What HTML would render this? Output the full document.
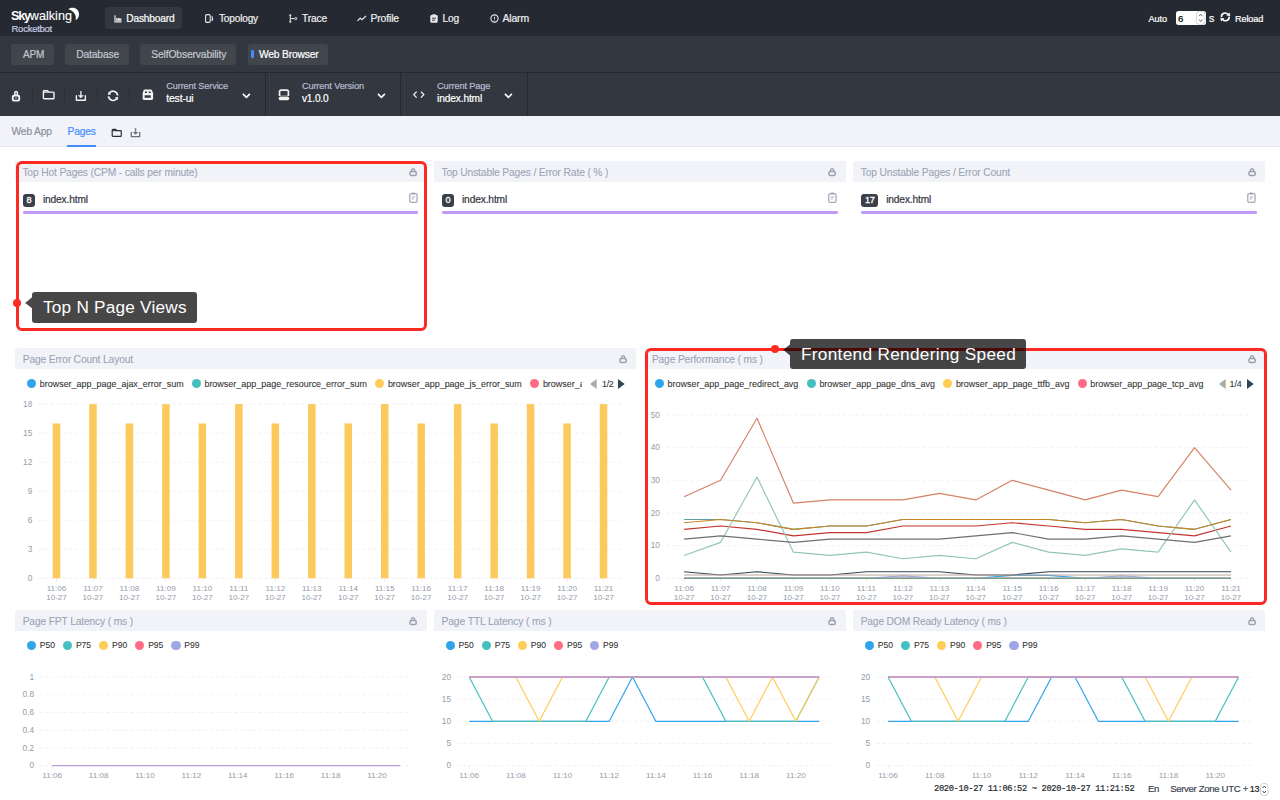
<!DOCTYPE html>
<html lang="en"><head><meta charset="utf-8"><title>SkyWalking Rocketbot - Dashboard</title>
<style>
html,body{margin:0;padding:0;}
body{width:1280px;height:800px;overflow:hidden;position:relative;background:#fff;font-family:"Liberation Sans",sans-serif;}
.t{position:absolute;white-space:nowrap;font-family:"Liberation Sans",sans-serif;-webkit-text-stroke:0.2px currentColor;}
svg{position:absolute;overflow:visible;}
</style></head><body>
<header class="rk-header">
<div style="position:absolute;left:0px;top:0px;width:1280px;height:36px;background:#252a32;"></div>
<span class="t" style="left:11.00px;top:8.85px;font-size:12.6px;line-height:15px;color:#fff;letter-spacing:-1.206px;font-weight:700;-webkit-text-stroke:0;">Sky</span>
<span class="t" style="left:29.80px;top:8.85px;font-size:12.6px;line-height:15px;color:#fff;letter-spacing:0.026px;-webkit-text-stroke:0.1px #fff;">walking</span>
<svg style="left:66px;top:7px" width="14" height="14" viewBox="0 0 14 14"><path d="M2.4 2.2 C6.5 -1 13.4 1.6 13 7.6 C12.9 10.2 11.6 12.2 9.6 13.2 C10.8 8.6 8 3.6 2.4 2.2 Z" fill="#fff"/></svg>
<span class="t" style="left:11.50px;top:23.35px;font-size:9.5px;line-height:11px;color:#c6cde6;letter-spacing:-0.253px;">Rocketbot</span>
<div style="position:absolute;left:105px;top:7px;width:77px;height:22px;background:#333840;border-radius:4px;"></div>
<span class="t" style="left:126.30px;top:12.85px;font-size:10.16px;line-height:12px;color:#fff;letter-spacing:-0.167px;">Dashboard</span>
<span class="t" style="left:219.00px;top:12.85px;font-size:10.04px;line-height:12px;color:#f0f0f0;letter-spacing:-0.149px;">Topology</span>
<span class="t" style="left:302.00px;top:12.85px;font-size:10.23px;line-height:12px;color:#f0f0f0;letter-spacing:-0.154px;">Trace</span>
<span class="t" style="left:370.50px;top:12.85px;font-size:10.37px;line-height:12px;color:#f0f0f0;letter-spacing:-0.128px;">Profile</span>
<span class="t" style="left:442.50px;top:12.85px;font-size:10.2px;line-height:12px;color:#f0f0f0;letter-spacing:-0.173px;">Log</span>
<span class="t" style="left:502.50px;top:12.35px;font-size:10.46px;line-height:13px;color:#f0f0f0;letter-spacing:-0.163px;">Alarm</span>
<svg style="left:113.5px;top:14.5px" width="8" height="8" viewBox="0 0 8 8"><path d="M0.4 0.3 h1.2 v6 h6 v1.3 h-7.2 z M2.2 5.8 V2.4 l1.4 1.3 l1.3 -1 l1.2 1 l1.3 -0.8 V5.8 z" fill="#e8e8e8"/></svg>
<svg style="left:205px;top:14px" width="9" height="9" viewBox="0 0 9 9"><rect x="0.6" y="0.6" width="4.6" height="7.8" rx="1.2" fill="none" stroke="#e8e8e8" stroke-width="1.1"/><path d="M6.8 2 q1.6 2.5 0 5" fill="none" stroke="#e8e8e8" stroke-width="1.1"/></svg>
<svg style="left:288.5px;top:14px" width="9" height="9" viewBox="0 0 9 9"><path d="M1.3 1.5 V7.5 M1.3 4.6 H5.8" fill="none" stroke="#e8e8e8" stroke-width="1"/><circle cx="1.3" cy="1.3" r="1" fill="#e8e8e8"/><circle cx="1.3" cy="7.7" r="1" fill="#e8e8e8"/><circle cx="6.8" cy="4.6" r="1.1" fill="none" stroke="#e8e8e8" stroke-width="0.9"/></svg>
<svg style="left:357px;top:15px" width="10" height="7" viewBox="0 0 10 7"><path d="M0.5 5.8 L3.2 3 L5 4.6 L9 1" fill="none" stroke="#e8e8e8" stroke-width="1.2"/></svg>
<svg style="left:429.5px;top:14px" width="8" height="9" viewBox="0 0 8 9"><rect x="0.3" y="1" width="7.4" height="7.7" rx="1.2" fill="#e8e8e8"/><rect x="2.3" y="0.2" width="3.4" height="1.8" rx="0.6" fill="#e8e8e8"/><path d="M2 4.2 h4 M2 6.2 h3" stroke="#252a2f" stroke-width="0.9"/></svg>
<svg style="left:489.5px;top:14.3px" width="9" height="9" viewBox="0 0 9 9"><circle cx="4.5" cy="4.5" r="3.6" fill="none" stroke="#e8e8e8" stroke-width="1.1"/><path d="M4.5 2.8 V4.8 M4.5 5.6 V6.3" stroke="#e8e8e8" stroke-width="1"/></svg>
<span class="t" style="left:1148.60px;top:13.85px;font-size:9.17px;line-height:11px;color:#fff;letter-spacing:-0.141px;">Auto</span>
<div style="position:absolute;left:1176px;top:10.9px;width:29.8px;height:14.2px;background:#fff;border-radius:2.5px;"></div>
<span class="t" style="left:1178.00px;top:12.85px;font-size:9.6px;line-height:12px;color:#000;">6</span>
<svg style="left:1196.2px;top:11.3px" width="10" height="14" viewBox="0 0 10 14"><rect x="0.4" y="0.4" width="8.6" height="13" rx="3" fill="#fff" stroke="#c8c8c8" stroke-width="0.8"/><path d="M3 5.2 L4.7 3.3 L6.4 5.2 M3 8.6 L4.7 10.5 L6.4 8.6" fill="none" stroke="#666" stroke-width="1"/></svg>
<span class="t" style="left:1208.90px;top:11.85px;font-size:10.6px;line-height:13px;color:#fff;">s</span>
<svg style="left:1219.6px;top:12px" width="11" height="10" viewBox="0 0 11 10"><path d="M1.5 5.2 A3.6 3.6 0 0 1 8 2.6 M9.1 4.6 A3.6 3.6 0 0 1 2.6 7.2" fill="none" stroke="#fff" stroke-width="1.6"/><path d="M6.2 3.6 L10.2 3.9 L9.6 0.4 Z M4.4 6.2 L0.4 5.9 L1 9.4 Z" fill="#fff"/></svg>
<span class="t" style="left:1235.00px;top:13.85px;font-size:9.17px;line-height:11px;color:#fff;letter-spacing:-0.143px;">Reload</span>
</header>
<nav class="rk-dashboard-group">
<div style="position:absolute;left:0px;top:36px;width:1280px;height:36px;background:#333840;"></div>
<div style="position:absolute;left:11px;top:44px;width:43px;height:21px;background:rgba(255,255,255,0.07);border-radius:3px;"></div>
<span class="t" style="left:23.00px;top:48.85px;font-size:9.99px;line-height:12px;color:#c3c7cf;letter-spacing:-0.216px;">APM</span>
<div style="position:absolute;left:65px;top:44px;width:64px;height:21px;background:rgba(255,255,255,0.07);border-radius:3px;"></div>
<span class="t" style="left:76.30px;top:48.85px;font-size:10.28px;line-height:12px;color:#c3c7cf;letter-spacing:-0.163px;">Database</span>
<div style="position:absolute;left:140px;top:44px;width:96px;height:21px;background:rgba(255,255,255,0.07);border-radius:3px;"></div>
<span class="t" style="left:151.30px;top:48.85px;font-size:10.31px;line-height:12px;color:#c3c7cf;letter-spacing:-0.139px;">SelfObservability</span>
<div style="position:absolute;left:248px;top:44px;width:80px;height:21px;background:rgba(255,255,255,0.07);border-radius:3px;"></div>
<div style="position:absolute;left:251px;top:50.3px;width:2.6px;height:8.2px;background:#448dfe;border-radius:1px;"></div>
<span class="t" style="left:259.00px;top:48.85px;font-size:10.25px;line-height:12px;color:#fff;letter-spacing:-0.166px;">Web Browser</span>
</nav>
<div class="rk-dashboard-bar">
<div style="position:absolute;left:0px;top:72px;width:1280px;height:44px;background:#333840;border-top:1px solid #252a2f;box-sizing:border-box;"></div>
<svg style="left:11px;top:89.5px" width="10" height="13" viewBox="0 0 10 13"><rect x="1.75" y="5.55" width="6.5" height="5.1" rx="1.9" fill="none" stroke="#f2f2f2" stroke-width="1.9"/><path d="M3.85 5.2 V2.85 a1.25 1.25 0 0 1 2.5 0 V5.2" fill="none" stroke="#f2f2f2" stroke-width="1.5"/><path d="M4.2 8.1 h1.6" stroke="#f2f2f2" stroke-width="0.8"/></svg>
<div style="position:absolute;left:32.3px;top:87.5px;width:1px;height:14.5px;background:rgba(0,0,0,0.16);"></div>
<svg style="left:42.00px;top:89.00px" width="14.00" height="12.00" viewBox="0 0 14 12"><path d="M1.4 2.4 a0.8 0.8 0 0 1 0.8 -0.8 H5.5 L6.8 3.1 H11.2 a0.8 0.8 0 0 1 0.8 0.8 V9 a0.8 0.8 0 0 1 -0.8 0.8 H2.2 a0.8 0.8 0 0 1 -0.8 -0.8 Z" fill="none" stroke="#f2f2f2" stroke-width="1.4" stroke-linejoin="round"/><path d="M1.6 3.1 H6.6" stroke="#f2f2f2" stroke-width="1.3"/></svg>
<div style="position:absolute;left:64.3px;top:87.5px;width:1px;height:14.5px;background:rgba(0,0,0,0.16);"></div>
<svg style="left:75.00px;top:90.00px" width="12.00" height="12.00" viewBox="0 0 12 12"><path d="M1.4 5.7 V10.2 H10.35 V5.7" fill="none" stroke="#f2f2f2" stroke-width="1.4" stroke-linejoin="round" stroke-linecap="round"/><path d="M5.9 0.9 V6" stroke="#f2f2f2" stroke-width="1.5" opacity="0.85"/><path d="M2.9 5.2 L5.9 8.3 L8.9 5.2 Z" fill="#f2f2f2"/></svg>
<div style="position:absolute;left:97.2px;top:87.5px;width:1px;height:14.5px;background:rgba(0,0,0,0.16);"></div>
<svg style="left:107px;top:90px" width="13" height="12" viewBox="0 0 13 12"><path d="M10.68 5.45 A4.6 4.6 0 0 0 2.58 2.89 M1.52 6.25 A4.6 4.6 0 0 0 9.62 8.81" fill="none" stroke="#f2f2f2" stroke-width="1.7"/><path d="M0.9 4.9 L4.3 4.2 L1.6 1.4 Z M11.3 6.8 L7.9 7.5 L10.6 10.3 Z" fill="#f2f2f2"/></svg>
<div style="position:absolute;left:129px;top:87.5px;width:1px;height:14.5px;background:rgba(0,0,0,0.16);"></div>
<svg style="left:142px;top:89px" width="12" height="12" viewBox="0 0 12 12"><path d="M2.6 0.45 H8.8 Q9.6 0.45 9.9 1.2 L11.1 4.3 V9.6 Q11.1 11 9.7 11 H2 Q0.65 11 0.65 9.6 V4.3 L1.7 1.2 Q2 0.45 2.6 0.45 Z" fill="#f2f2f2"/><path d="M3.3 2.5 H5 V3.9 H2.7 Z M6.7 2.5 H8.4 L9 3.9 H6.7 Z" fill="#333840"/><rect x="2.6" y="6.2" width="6.2" height="2.5" rx="0.3" fill="#333840"/></svg>
<span class="t" style="left:166.25px;top:80.85px;font-size:9.18px;line-height:11px;color:#b7bdd0;letter-spacing:-0.128px;">Current Service</span>
<span class="t" style="left:166.25px;top:92.85px;font-size:10.32px;line-height:12px;color:#fff;letter-spacing:-0.122px;">test-ui</span>
<svg style="left:242.3px;top:93px" width="9" height="6" viewBox="0 0 9 6"><path d="M0.9 0.9 L4.4 4.4 L7.9 0.9" fill="none" stroke="#fff" stroke-width="1.6"/></svg>
<div style="position:absolute;left:265.2px;top:73px;width:1px;height:43px;background:#252a2f;"></div>
<div style="position:absolute;left:269.2px;top:73px;width:1px;height:43px;background:rgba(255,255,255,0.03);"></div>
<svg style="left:278px;top:89px" width="12" height="12" viewBox="0 0 12 12"><path d="M1.55 7.1 V2.6 a1.4 1.4 0 0 1 1.4 -1.4 H9 a1.4 1.4 0 0 1 1.4 1.4 V7.1" fill="none" stroke="#f2f2f2" stroke-width="1.7"/><path d="M1.55 6.9 H10.4" stroke="#f2f2f2" stroke-width="0.5"/><rect x="0.7" y="7.7" width="10.5" height="3.5" rx="1.6" fill="#f2f2f2"/></svg>
<span class="t" style="left:301.90px;top:80.85px;font-size:9.21px;line-height:11px;color:#b7bdd0;letter-spacing:-0.126px;">Current Version</span>
<span class="t" style="left:301.90px;top:92.85px;font-size:10.07px;line-height:12px;color:#fff;letter-spacing:-0.139px;">v1.0.0</span>
<svg style="left:377.3px;top:93px" width="9" height="6" viewBox="0 0 9 6"><path d="M0.9 0.9 L4.4 4.4 L7.9 0.9" fill="none" stroke="#fff" stroke-width="1.6"/></svg>
<div style="position:absolute;left:400.3px;top:73px;width:1px;height:43px;background:#252a2f;"></div>
<div style="position:absolute;left:404.3px;top:73px;width:1px;height:43px;background:rgba(255,255,255,0.03);"></div>
<svg style="left:413px;top:91px" width="12" height="8" viewBox="0 0 12 8"><path d="M3.6 0.6 L0.8 3.6 L3.6 6.6 M8 0.6 L10.8 3.6 L8 6.6" fill="none" stroke="#f2f2f2" stroke-width="1.3"/></svg>
<span class="t" style="left:437.10px;top:80.85px;font-size:9.21px;line-height:11px;color:#b7bdd0;letter-spacing:-0.136px;">Current Page</span>
<span class="t" style="left:437.10px;top:92.85px;font-size:10.18px;line-height:12px;color:#fff;letter-spacing:-0.140px;">index.html</span>
<svg style="left:504.4px;top:93px" width="9" height="6" viewBox="0 0 9 6"><path d="M0.9 0.9 L4.4 4.4 L7.9 0.9" fill="none" stroke="#fff" stroke-width="1.6"/></svg>
<div style="position:absolute;left:527px;top:73px;width:1px;height:43px;background:#252a2f;"></div>
</div>
<div class="rk-dashboard-nav">
<div style="position:absolute;left:0px;top:116px;width:1280px;height:31.1px;background:#f2f3f8;border-bottom:1px solid #e7e8eb;box-sizing:border-box;"></div>
<span class="t" style="left:11.50px;top:125.85px;font-size:10.31px;line-height:12px;color:#8b8f9c;letter-spacing:-0.179px;">Web App</span>
<span class="t" style="left:67.50px;top:125.85px;font-size:10.22px;line-height:12px;color:#448dfe;letter-spacing:-0.176px;">Pages</span>
<div style="position:absolute;left:67px;top:145.3px;width:29px;height:1.8px;background:#448dfe;"></div>
<svg style="left:111.30px;top:127.90px" width="11.97" height="10.26" viewBox="0 0 14 12"><path d="M1.4 2.4 a0.8 0.8 0 0 1 0.8 -0.8 H5.5 L6.8 3.1 H11.2 a0.8 0.8 0 0 1 0.8 0.8 V9 a0.8 0.8 0 0 1 -0.8 0.8 H2.2 a0.8 0.8 0 0 1 -0.8 -0.8 Z" fill="none" stroke="#2a2e36" stroke-width="1.4" stroke-linejoin="round"/><path d="M1.6 3.1 H6.6" stroke="#2a2e36" stroke-width="1.3"/></svg>
<svg style="left:130.20px;top:126.60px" width="11.28" height="11.28" viewBox="0 0 12 12"><path d="M1.4 5.7 V10.2 H10.35 V5.7" fill="none" stroke="#6c707a" stroke-width="1.4" stroke-linejoin="round" stroke-linecap="round"/><path d="M5.9 0.9 V6" stroke="#6c707a" stroke-width="1.5" opacity="0.85"/><path d="M2.9 5.2 L5.9 8.3 L8.9 5.2 Z" fill="#6c707a"/></svg>
</div>
<main class="rk-dashboard">
<div style="position:absolute;left:14.9px;top:161.3px;width:411.6px;height:20.3px;background:#f2f3f8;border-radius:2px 2px 0 0;"></div>
<span class="t" style="left:22.40px;top:166.85px;font-size:10.25px;line-height:12px;color:#9aa3b5;letter-spacing:-0.142px;-webkit-text-stroke:0.08px currentColor;">Top Hot Pages (CPM - calls per minute)</span>
<svg style="left:409.30px;top:167.90px" width="9" height="9" viewBox="0 0 9 9"><rect x="0.95" y="3.5" width="6.3" height="4.1" rx="1.6" fill="none" stroke="#9aa0ae" stroke-width="1.5"/><path d="M2.5 3.4 V2.3 a1.6 1.6 0 0 1 3.2 0 V3.4" fill="none" stroke="#9aa0ae" stroke-width="1.3"/></svg>
<div style="position:absolute;left:22.9px;top:194.0px;width:12px;height:13px;background:#3a3f4a;border-radius:3px;"></div>
<span class="t" style="left:26.49px;top:194.85px;font-size:9.2px;line-height:11px;color:#fff;letter-spacing:-0.3px;-webkit-text-stroke:0.3px #fff;">8</span>
<span class="t" style="left:42.90px;top:193.85px;font-size:10.2px;line-height:12px;color:#2f3440;letter-spacing:-0.139px;">index.html</span>
<svg style="left:408.70px;top:192.30px" width="9" height="11" viewBox="0 0 9 11"><rect x="0.75" y="1.6" width="7.3" height="8.7" rx="1.4" fill="none" stroke="#a2a8b7" stroke-width="1.25"/><rect x="2.7" y="0.4" width="3.4" height="2" rx="0.7" fill="#a2a8b7"/><path d="M2.7 5 h3.5 M2.7 7 h2.2" stroke="#a2a8b7" stroke-width="0.95"/></svg>
<div style="position:absolute;left:22.9px;top:211.3px;width:395.6px;height:2.6px;background:#bf99f8;border-radius:1.3px;"></div>
<div style="position:absolute;left:434px;top:161.3px;width:411.6px;height:20.3px;background:#f2f3f8;border-radius:2px 2px 0 0;"></div>
<span class="t" style="left:441.50px;top:166.85px;font-size:10.26px;line-height:12px;color:#9aa3b5;letter-spacing:-0.141px;-webkit-text-stroke:0.08px currentColor;">Top Unstable Pages / Error Rate ( % )</span>
<svg style="left:828.40px;top:167.90px" width="9" height="9" viewBox="0 0 9 9"><rect x="0.95" y="3.5" width="6.3" height="4.1" rx="1.6" fill="none" stroke="#9aa0ae" stroke-width="1.5"/><path d="M2.5 3.4 V2.3 a1.6 1.6 0 0 1 3.2 0 V3.4" fill="none" stroke="#9aa0ae" stroke-width="1.3"/></svg>
<div style="position:absolute;left:442px;top:194.0px;width:12px;height:13px;background:#3a3f4a;border-radius:3px;"></div>
<span class="t" style="left:445.59px;top:194.85px;font-size:9.2px;line-height:11px;color:#fff;letter-spacing:-0.3px;-webkit-text-stroke:0.3px #fff;">0</span>
<span class="t" style="left:462.00px;top:193.85px;font-size:10.2px;line-height:12px;color:#2f3440;letter-spacing:-0.139px;">index.html</span>
<svg style="left:827.80px;top:192.30px" width="9" height="11" viewBox="0 0 9 11"><rect x="0.75" y="1.6" width="7.3" height="8.7" rx="1.4" fill="none" stroke="#a2a8b7" stroke-width="1.25"/><rect x="2.7" y="0.4" width="3.4" height="2" rx="0.7" fill="#a2a8b7"/><path d="M2.7 5 h3.5 M2.7 7 h2.2" stroke="#a2a8b7" stroke-width="0.95"/></svg>
<div style="position:absolute;left:442px;top:211.3px;width:395.6px;height:2.6px;background:#bf99f8;border-radius:1.3px;"></div>
<div style="position:absolute;left:853.2px;top:161.3px;width:411.8px;height:20.3px;background:#f2f3f8;border-radius:2px 2px 0 0;"></div>
<span class="t" style="left:860.70px;top:166.85px;font-size:10.31px;line-height:12px;color:#9aa3b5;letter-spacing:-0.146px;-webkit-text-stroke:0.08px currentColor;">Top Unstable Pages / Error Count</span>
<svg style="left:1247.80px;top:167.90px" width="9" height="9" viewBox="0 0 9 9"><rect x="0.95" y="3.5" width="6.3" height="4.1" rx="1.6" fill="none" stroke="#9aa0ae" stroke-width="1.5"/><path d="M2.5 3.4 V2.3 a1.6 1.6 0 0 1 3.2 0 V3.4" fill="none" stroke="#9aa0ae" stroke-width="1.3"/></svg>
<div style="position:absolute;left:861.2px;top:194.0px;width:17px;height:13px;background:#3a3f4a;border-radius:3px;"></div>
<span class="t" style="left:864.88px;top:194.85px;font-size:9.2px;line-height:11px;color:#fff;letter-spacing:-0.3px;-webkit-text-stroke:0.3px #fff;">17</span>
<span class="t" style="left:886.20px;top:193.85px;font-size:10.2px;line-height:12px;color:#2f3440;letter-spacing:-0.139px;">index.html</span>
<svg style="left:1247.20px;top:192.30px" width="9" height="11" viewBox="0 0 9 11"><rect x="0.75" y="1.6" width="7.3" height="8.7" rx="1.4" fill="none" stroke="#a2a8b7" stroke-width="1.25"/><rect x="2.7" y="0.4" width="3.4" height="2" rx="0.7" fill="#a2a8b7"/><path d="M2.7 5 h3.5 M2.7 7 h2.2" stroke="#a2a8b7" stroke-width="0.95"/></svg>
<div style="position:absolute;left:861.2px;top:211.3px;width:395.8px;height:2.6px;background:#bf99f8;border-radius:1.3px;"></div>
<div style="position:absolute;left:15.2px;top:348.2px;width:620.8px;height:20.6px;background:#f2f3f8;border-radius:2px 2px 0 0;"></div>
<span class="t" style="left:22.70px;top:353.85px;font-size:10.29px;line-height:12px;color:#9aa3b5;letter-spacing:-0.149px;-webkit-text-stroke:0.08px currentColor;">Page Error Count Layout</span>
<svg style="left:618.80px;top:354.80px" width="9" height="9" viewBox="0 0 9 9"><rect x="0.95" y="3.5" width="6.3" height="4.1" rx="1.6" fill="none" stroke="#9aa0ae" stroke-width="1.5"/><path d="M2.5 3.4 V2.3 a1.6 1.6 0 0 1 3.2 0 V3.4" fill="none" stroke="#9aa0ae" stroke-width="1.3"/></svg>
<div style="position:absolute;left:644.4px;top:348.2px;width:620.8px;height:20.6px;background:#f2f3f8;border-radius:2px 2px 0 0;"></div>
<span class="t" style="left:651.90px;top:353.85px;font-size:10.24px;line-height:12px;color:#9aa3b5;letter-spacing:-0.147px;-webkit-text-stroke:0.08px currentColor;">Page Performance ( ms )</span>
<svg style="left:1248.00px;top:354.80px" width="9" height="9" viewBox="0 0 9 9"><rect x="0.95" y="3.5" width="6.3" height="4.1" rx="1.6" fill="none" stroke="#9aa0ae" stroke-width="1.5"/><path d="M2.5 3.4 V2.3 a1.6 1.6 0 0 1 3.2 0 V3.4" fill="none" stroke="#9aa0ae" stroke-width="1.3"/></svg>
<div style="position:absolute;left:26.9px;top:379.0px;width:9.1px;height:9.1px;background:#30A4EB;border-radius:50%;"></div>
<span class="t" style="left:39.75px;top:378.85px;font-size:8.96px;line-height:11px;color:#333;letter-spacing:0.002px;-webkit-text-stroke:0.08px currentColor;">browser_app_page_ajax_error_sum</span>
<div style="position:absolute;left:191.6px;top:379.0px;width:9.1px;height:9.1px;background:#45BFC0;border-radius:50%;"></div>
<span class="t" style="left:204.40px;top:378.85px;font-size:8.98px;line-height:11px;color:#333;letter-spacing:0.002px;-webkit-text-stroke:0.08px currentColor;">browser_app_page_resource_error_sum</span>
<div style="position:absolute;left:375px;top:379.0px;width:9.1px;height:9.1px;background:#FFCC55;border-radius:50%;"></div>
<span class="t" style="left:387.90px;top:378.85px;font-size:8.96px;line-height:11px;color:#333;letter-spacing:0.001px;-webkit-text-stroke:0.08px currentColor;">browser_app_page_js_error_sum</span>
<div style="position:absolute;left:529.75px;top:379.0px;width:9.1px;height:9.1px;background:#FF6A84;border-radius:50%;"></div>
<span class="t" style="left:542.90px;top:378.85px;font-size:8.96px;line-height:11px;color:#333;-webkit-text-stroke:0.08px currentColor;overflow:hidden;width:39.6px;">browser_app_page_unknown_error_sum</span>
<svg style="left:590.30px;top:378.55px" width="7" height="10" viewBox="0 0 7 10"><path d="M6.7 0 V10 L0 5 Z" fill="#aaa"/></svg>
<span class="t" style="left:602.10px;top:378.85px;font-size:8.96px;line-height:11px;color:#333;letter-spacing:-0.385px;-webkit-text-stroke:0.08px currentColor;">1/2</span>
<svg style="left:618.40px;top:378.55px" width="7" height="10" viewBox="0 0 7 10"><path d="M0 0 V10 L6.7 5 Z" fill="#2f4554"/></svg>
<div style="position:absolute;left:654.75px;top:379.0px;width:9.1px;height:9.1px;background:#30A4EB;border-radius:50%;"></div>
<span class="t" style="left:667.60px;top:378.85px;font-size:8.95px;line-height:11px;color:#333;letter-spacing:0.001px;-webkit-text-stroke:0.08px currentColor;">browser_app_page_redirect_avg</span>
<div style="position:absolute;left:806.5px;top:379.0px;width:9.1px;height:9.1px;background:#45BFC0;border-radius:50%;"></div>
<span class="t" style="left:819.40px;top:378.85px;font-size:8.96px;line-height:11px;color:#333;letter-spacing:0.001px;-webkit-text-stroke:0.08px currentColor;">browser_app_page_dns_avg</span>
<div style="position:absolute;left:943px;top:379.0px;width:9.1px;height:9.1px;background:#FFCC55;border-radius:50%;"></div>
<span class="t" style="left:955.90px;top:378.85px;font-size:8.96px;line-height:11px;color:#333;letter-spacing:0.001px;-webkit-text-stroke:0.08px currentColor;">browser_app_page_ttfb_avg</span>
<div style="position:absolute;left:1077.7px;top:379.0px;width:9.1px;height:9.1px;background:#FF6A84;border-radius:50%;"></div>
<span class="t" style="left:1090.30px;top:378.85px;font-size:8.97px;line-height:11px;color:#333;letter-spacing:-0.000px;-webkit-text-stroke:0.08px currentColor;">browser_app_page_tcp_avg</span>
<svg style="left:1218.50px;top:378.55px" width="7" height="10" viewBox="0 0 7 10"><path d="M6.7 0 V10 L0 5 Z" fill="#aaa"/></svg>
<span class="t" style="left:1229.60px;top:378.85px;font-size:8.96px;line-height:11px;color:#333;letter-spacing:-0.185px;-webkit-text-stroke:0.08px currentColor;">1/4</span>
<svg style="left:1246.50px;top:378.55px" width="7" height="10" viewBox="0 0 7 10"><path d="M0 0 V10 L6.7 5 Z" fill="#2f4554"/></svg>
<svg style="left:0;top:0" width="1280" height="800" viewBox="0 0 1280 800"><line x1="38.30" y1="578.30" x2="621.70" y2="578.30" stroke="#f0f1f4" stroke-width="0.9" stroke-dasharray="3.5 2.6"/><line x1="38.30" y1="549.27" x2="621.70" y2="549.27" stroke="#f0f1f4" stroke-width="0.9" stroke-dasharray="3.5 2.6"/><line x1="38.30" y1="520.23" x2="621.70" y2="520.23" stroke="#f0f1f4" stroke-width="0.9" stroke-dasharray="3.5 2.6"/><line x1="38.30" y1="491.20" x2="621.70" y2="491.20" stroke="#f0f1f4" stroke-width="0.9" stroke-dasharray="3.5 2.6"/><line x1="38.30" y1="462.17" x2="621.70" y2="462.17" stroke="#f0f1f4" stroke-width="0.9" stroke-dasharray="3.5 2.6"/><line x1="38.30" y1="433.13" x2="621.70" y2="433.13" stroke="#f0f1f4" stroke-width="0.9" stroke-dasharray="3.5 2.6"/><line x1="38.30" y1="404.10" x2="621.70" y2="404.10" stroke="#f0f1f4" stroke-width="0.9" stroke-dasharray="3.5 2.6"/><rect x="52.75" y="423.46" width="7.5" height="154.84" fill="#fcc95c"/><line x1="56.50" y1="578.80" x2="56.50" y2="581.30" stroke="#dfe1e6" stroke-width="0.8"/><rect x="89.22" y="404.10" width="7.5" height="174.20" fill="#fcc95c"/><line x1="92.97" y1="578.80" x2="92.97" y2="581.30" stroke="#dfe1e6" stroke-width="0.8"/><rect x="125.69" y="423.46" width="7.5" height="154.84" fill="#fcc95c"/><line x1="129.44" y1="578.80" x2="129.44" y2="581.30" stroke="#dfe1e6" stroke-width="0.8"/><rect x="162.16" y="404.10" width="7.5" height="174.20" fill="#fcc95c"/><line x1="165.91" y1="578.80" x2="165.91" y2="581.30" stroke="#dfe1e6" stroke-width="0.8"/><rect x="198.63" y="423.46" width="7.5" height="154.84" fill="#fcc95c"/><line x1="202.38" y1="578.80" x2="202.38" y2="581.30" stroke="#dfe1e6" stroke-width="0.8"/><rect x="235.10" y="404.10" width="7.5" height="174.20" fill="#fcc95c"/><line x1="238.85" y1="578.80" x2="238.85" y2="581.30" stroke="#dfe1e6" stroke-width="0.8"/><rect x="271.57" y="423.46" width="7.5" height="154.84" fill="#fcc95c"/><line x1="275.32" y1="578.80" x2="275.32" y2="581.30" stroke="#dfe1e6" stroke-width="0.8"/><rect x="308.04" y="404.10" width="7.5" height="174.20" fill="#fcc95c"/><line x1="311.79" y1="578.80" x2="311.79" y2="581.30" stroke="#dfe1e6" stroke-width="0.8"/><rect x="344.51" y="423.46" width="7.5" height="154.84" fill="#fcc95c"/><line x1="348.26" y1="578.80" x2="348.26" y2="581.30" stroke="#dfe1e6" stroke-width="0.8"/><rect x="380.98" y="404.10" width="7.5" height="174.20" fill="#fcc95c"/><line x1="384.73" y1="578.80" x2="384.73" y2="581.30" stroke="#dfe1e6" stroke-width="0.8"/><rect x="417.45" y="423.46" width="7.5" height="154.84" fill="#fcc95c"/><line x1="421.20" y1="578.80" x2="421.20" y2="581.30" stroke="#dfe1e6" stroke-width="0.8"/><rect x="453.92" y="404.10" width="7.5" height="174.20" fill="#fcc95c"/><line x1="457.67" y1="578.80" x2="457.67" y2="581.30" stroke="#dfe1e6" stroke-width="0.8"/><rect x="490.39" y="423.46" width="7.5" height="154.84" fill="#fcc95c"/><line x1="494.14" y1="578.80" x2="494.14" y2="581.30" stroke="#dfe1e6" stroke-width="0.8"/><rect x="526.86" y="404.10" width="7.5" height="174.20" fill="#fcc95c"/><line x1="530.61" y1="578.80" x2="530.61" y2="581.30" stroke="#dfe1e6" stroke-width="0.8"/><rect x="563.33" y="423.46" width="7.5" height="154.84" fill="#fcc95c"/><line x1="567.08" y1="578.80" x2="567.08" y2="581.30" stroke="#dfe1e6" stroke-width="0.8"/><rect x="599.80" y="404.10" width="7.5" height="174.20" fill="#fcc95c"/><line x1="603.55" y1="578.80" x2="603.55" y2="581.30" stroke="#dfe1e6" stroke-width="0.8"/></svg>
<span class="t" style="left:27.68px;top:573.35px;font-size:8.3px;line-height:10px;color:#959ca9;-webkit-text-stroke:0;">0</span>
<span class="t" style="left:27.68px;top:544.35px;font-size:8.3px;line-height:10px;color:#959ca9;-webkit-text-stroke:0;">3</span>
<span class="t" style="left:27.68px;top:515.35px;font-size:8.3px;line-height:10px;color:#959ca9;-webkit-text-stroke:0;">6</span>
<span class="t" style="left:27.68px;top:486.35px;font-size:8.3px;line-height:10px;color:#959ca9;-webkit-text-stroke:0;">9</span>
<span class="t" style="left:23.07px;top:457.35px;font-size:8.3px;line-height:10px;color:#959ca9;-webkit-text-stroke:0;">12</span>
<span class="t" style="left:23.07px;top:428.35px;font-size:8.3px;line-height:10px;color:#959ca9;-webkit-text-stroke:0;">15</span>
<span class="t" style="left:23.07px;top:399.35px;font-size:8.3px;line-height:10px;color:#959ca9;-webkit-text-stroke:0;">18</span>
<span class="t" style="left:46.67px;top:583.85px;font-size:8.1px;line-height:10px;color:#959ca9;-webkit-text-stroke:0;">11:06</span>
<span class="t" style="left:46.14px;top:592.85px;font-size:8.1px;line-height:10px;color:#959ca9;-webkit-text-stroke:0;">10-27</span>
<span class="t" style="left:83.14px;top:583.85px;font-size:8.1px;line-height:10px;color:#959ca9;-webkit-text-stroke:0;">11:07</span>
<span class="t" style="left:82.61px;top:592.85px;font-size:8.1px;line-height:10px;color:#959ca9;-webkit-text-stroke:0;">10-27</span>
<span class="t" style="left:119.61px;top:583.85px;font-size:8.1px;line-height:10px;color:#959ca9;-webkit-text-stroke:0;">11:08</span>
<span class="t" style="left:119.08px;top:592.85px;font-size:8.1px;line-height:10px;color:#959ca9;-webkit-text-stroke:0;">10-27</span>
<span class="t" style="left:156.08px;top:583.85px;font-size:8.1px;line-height:10px;color:#959ca9;-webkit-text-stroke:0;">11:09</span>
<span class="t" style="left:155.55px;top:592.85px;font-size:8.1px;line-height:10px;color:#959ca9;-webkit-text-stroke:0;">10-27</span>
<span class="t" style="left:192.55px;top:583.85px;font-size:8.1px;line-height:10px;color:#959ca9;-webkit-text-stroke:0;">11:10</span>
<span class="t" style="left:192.02px;top:592.85px;font-size:8.1px;line-height:10px;color:#959ca9;-webkit-text-stroke:0;">10-27</span>
<span class="t" style="left:229.32px;top:583.85px;font-size:8.1px;line-height:10px;color:#959ca9;-webkit-text-stroke:0;">11:11</span>
<span class="t" style="left:228.49px;top:592.85px;font-size:8.1px;line-height:10px;color:#959ca9;-webkit-text-stroke:0;">10-27</span>
<span class="t" style="left:265.49px;top:583.85px;font-size:8.1px;line-height:10px;color:#959ca9;-webkit-text-stroke:0;">11:12</span>
<span class="t" style="left:264.96px;top:592.85px;font-size:8.1px;line-height:10px;color:#959ca9;-webkit-text-stroke:0;">10-27</span>
<span class="t" style="left:301.96px;top:583.85px;font-size:8.1px;line-height:10px;color:#959ca9;-webkit-text-stroke:0;">11:13</span>
<span class="t" style="left:301.43px;top:592.85px;font-size:8.1px;line-height:10px;color:#959ca9;-webkit-text-stroke:0;">10-27</span>
<span class="t" style="left:338.43px;top:583.85px;font-size:8.1px;line-height:10px;color:#959ca9;-webkit-text-stroke:0;">11:14</span>
<span class="t" style="left:337.90px;top:592.85px;font-size:8.1px;line-height:10px;color:#959ca9;-webkit-text-stroke:0;">10-27</span>
<span class="t" style="left:374.90px;top:583.85px;font-size:8.1px;line-height:10px;color:#959ca9;-webkit-text-stroke:0;">11:15</span>
<span class="t" style="left:374.37px;top:592.85px;font-size:8.1px;line-height:10px;color:#959ca9;-webkit-text-stroke:0;">10-27</span>
<span class="t" style="left:411.37px;top:583.85px;font-size:8.1px;line-height:10px;color:#959ca9;-webkit-text-stroke:0;">11:16</span>
<span class="t" style="left:410.84px;top:592.85px;font-size:8.1px;line-height:10px;color:#959ca9;-webkit-text-stroke:0;">10-27</span>
<span class="t" style="left:447.84px;top:583.85px;font-size:8.1px;line-height:10px;color:#959ca9;-webkit-text-stroke:0;">11:17</span>
<span class="t" style="left:447.31px;top:592.85px;font-size:8.1px;line-height:10px;color:#959ca9;-webkit-text-stroke:0;">10-27</span>
<span class="t" style="left:484.31px;top:583.85px;font-size:8.1px;line-height:10px;color:#959ca9;-webkit-text-stroke:0;">11:18</span>
<span class="t" style="left:483.78px;top:592.85px;font-size:8.1px;line-height:10px;color:#959ca9;-webkit-text-stroke:0;">10-27</span>
<span class="t" style="left:520.78px;top:583.85px;font-size:8.1px;line-height:10px;color:#959ca9;-webkit-text-stroke:0;">11:19</span>
<span class="t" style="left:520.25px;top:592.85px;font-size:8.1px;line-height:10px;color:#959ca9;-webkit-text-stroke:0;">10-27</span>
<span class="t" style="left:557.25px;top:583.85px;font-size:8.1px;line-height:10px;color:#959ca9;-webkit-text-stroke:0;">11:20</span>
<span class="t" style="left:556.72px;top:592.85px;font-size:8.1px;line-height:10px;color:#959ca9;-webkit-text-stroke:0;">10-27</span>
<span class="t" style="left:593.72px;top:583.85px;font-size:8.1px;line-height:10px;color:#959ca9;-webkit-text-stroke:0;">11:21</span>
<span class="t" style="left:593.19px;top:592.85px;font-size:8.1px;line-height:10px;color:#959ca9;-webkit-text-stroke:0;">10-27</span>
<svg style="left:0;top:0" width="1280" height="800" viewBox="0 0 1280 800"><line x1="665.90" y1="578.30" x2="1249.30" y2="578.30" stroke="#f0f1f4" stroke-width="0.9" stroke-dasharray="3.5 2.6"/><line x1="665.90" y1="545.64" x2="1249.30" y2="545.64" stroke="#f0f1f4" stroke-width="0.9" stroke-dasharray="3.5 2.6"/><line x1="665.90" y1="512.98" x2="1249.30" y2="512.98" stroke="#f0f1f4" stroke-width="0.9" stroke-dasharray="3.5 2.6"/><line x1="665.90" y1="480.32" x2="1249.30" y2="480.32" stroke="#f0f1f4" stroke-width="0.9" stroke-dasharray="3.5 2.6"/><line x1="665.90" y1="447.66" x2="1249.30" y2="447.66" stroke="#f0f1f4" stroke-width="0.9" stroke-dasharray="3.5 2.6"/><line x1="665.90" y1="415.00" x2="1249.30" y2="415.00" stroke="#f0f1f4" stroke-width="0.9" stroke-dasharray="3.5 2.6"/><line x1="684.10" y1="578.80" x2="684.10" y2="581.30" stroke="#dfe1e6" stroke-width="0.8"/><line x1="720.56" y1="578.80" x2="720.56" y2="581.30" stroke="#dfe1e6" stroke-width="0.8"/><line x1="757.02" y1="578.80" x2="757.02" y2="581.30" stroke="#dfe1e6" stroke-width="0.8"/><line x1="793.48" y1="578.80" x2="793.48" y2="581.30" stroke="#dfe1e6" stroke-width="0.8"/><line x1="829.94" y1="578.80" x2="829.94" y2="581.30" stroke="#dfe1e6" stroke-width="0.8"/><line x1="866.40" y1="578.80" x2="866.40" y2="581.30" stroke="#dfe1e6" stroke-width="0.8"/><line x1="902.86" y1="578.80" x2="902.86" y2="581.30" stroke="#dfe1e6" stroke-width="0.8"/><line x1="939.32" y1="578.80" x2="939.32" y2="581.30" stroke="#dfe1e6" stroke-width="0.8"/><line x1="975.78" y1="578.80" x2="975.78" y2="581.30" stroke="#dfe1e6" stroke-width="0.8"/><line x1="1012.24" y1="578.80" x2="1012.24" y2="581.30" stroke="#dfe1e6" stroke-width="0.8"/><line x1="1048.70" y1="578.80" x2="1048.70" y2="581.30" stroke="#dfe1e6" stroke-width="0.8"/><line x1="1085.16" y1="578.80" x2="1085.16" y2="581.30" stroke="#dfe1e6" stroke-width="0.8"/><line x1="1121.62" y1="578.80" x2="1121.62" y2="581.30" stroke="#dfe1e6" stroke-width="0.8"/><line x1="1158.08" y1="578.80" x2="1158.08" y2="581.30" stroke="#dfe1e6" stroke-width="0.8"/><line x1="1194.54" y1="578.80" x2="1194.54" y2="581.30" stroke="#dfe1e6" stroke-width="0.8"/><line x1="1231.00" y1="578.80" x2="1231.00" y2="581.30" stroke="#dfe1e6" stroke-width="0.8"/><polyline points="684.10,578.30 720.56,578.30 757.02,578.30 793.48,578.30 829.94,578.30 866.40,578.30 902.86,578.30 939.32,578.30 975.78,578.30 1012.24,575.36 1048.70,575.36 1085.16,578.30 1121.62,578.30 1158.08,578.30 1194.54,578.30 1231.00,578.30" fill="none" stroke="#30A4EB" stroke-width="1.15" stroke-linejoin="round"/><polyline points="684.10,578.30 720.56,578.30 757.02,578.30 793.48,578.30 829.94,578.30 866.40,578.30 902.86,578.30 939.32,578.30 975.78,578.30 1012.24,578.30 1048.70,578.30 1085.16,578.30 1121.62,578.30 1158.08,578.30 1194.54,578.30 1231.00,578.30" fill="none" stroke="#45BFC0" stroke-width="1.15" stroke-linejoin="round"/><polyline points="684.10,578.30 720.56,578.30 757.02,578.30 793.48,578.30 829.94,578.30 866.40,578.30 902.86,578.30 939.32,578.30 975.78,578.30 1012.24,578.30 1048.70,578.30 1085.16,578.30 1121.62,578.30 1158.08,578.30 1194.54,578.30 1231.00,578.30" fill="none" stroke="#FFCC55" stroke-width="1.15" stroke-linejoin="round"/><polyline points="684.10,578.30 720.56,578.30 757.02,578.30 793.48,578.30 829.94,578.30 866.40,578.30 902.86,578.30 939.32,578.30 975.78,578.30 1012.24,578.30 1048.70,578.30 1085.16,578.30 1121.62,578.30 1158.08,578.30 1194.54,578.30 1231.00,578.30" fill="none" stroke="#FF6A84" stroke-width="1.15" stroke-linejoin="round"/><polyline points="684.10,578.30 720.56,578.30 757.02,578.30 793.48,578.30 829.94,578.30 866.40,578.30 902.86,575.85 939.32,578.30 975.78,578.30 1012.24,578.30 1048.70,578.30 1085.16,578.30 1121.62,575.85 1158.08,578.30 1194.54,578.30 1231.00,578.30" fill="none" stroke="#a0a7e6" stroke-width="1.15" stroke-linejoin="round"/><polyline points="684.10,529.31 720.56,526.04 757.02,529.31 793.48,535.84 829.94,532.58 866.40,532.58 902.86,526.04 939.32,526.04 975.78,526.04 1012.24,522.78 1048.70,526.04 1085.16,529.31 1121.62,529.31 1158.08,532.58 1194.54,535.84 1231.00,526.04" fill="none" stroke="#c23531" stroke-width="1.15" stroke-linejoin="round"/><polyline points="684.10,571.77 720.56,575.03 757.02,571.77 793.48,575.03 829.94,575.03 866.40,571.77 902.86,571.77 939.32,571.77 975.78,575.03 1012.24,575.03 1048.70,571.77 1085.16,571.77 1121.62,571.77 1158.08,571.77 1194.54,571.77 1231.00,571.77" fill="none" stroke="#2f4554" stroke-width="1.15" stroke-linejoin="round"/><polyline points="684.10,519.51 720.56,519.51 757.02,522.78 793.48,529.31 829.94,526.04 866.40,526.04 902.86,519.51 939.32,519.51 975.78,519.51 1012.24,519.51 1048.70,519.51 1085.16,522.78 1121.62,519.51 1158.08,526.04 1194.54,529.31 1231.00,519.51" fill="none" stroke="#61a0a8" stroke-width="1.15" stroke-linejoin="round"/><polyline points="684.10,496.65 720.56,480.32 757.02,418.27 793.48,503.18 829.94,499.92 866.40,499.92 902.86,499.92 939.32,493.38 975.78,499.92 1012.24,480.32 1048.70,490.12 1085.16,499.92 1121.62,490.12 1158.08,496.65 1194.54,447.66 1231.00,490.12" fill="none" stroke="#d48265" stroke-width="1.15" stroke-linejoin="round"/><polyline points="684.10,555.44 720.56,542.37 757.02,477.05 793.48,552.17 829.94,555.44 866.40,552.17 902.86,558.70 939.32,555.44 975.78,558.70 1012.24,542.37 1048.70,552.17 1085.16,555.44 1121.62,548.91 1158.08,552.17 1194.54,499.92 1231.00,552.17" fill="none" stroke="#91c7ae" stroke-width="1.15" stroke-linejoin="round"/><polyline points="684.10,578.30 720.56,578.30 757.02,578.30 793.48,578.30 829.94,578.30 866.40,578.30 902.86,578.30 939.32,578.30 975.78,578.30 1012.24,578.30 1048.70,578.30 1085.16,578.30 1121.62,578.30 1158.08,578.30 1194.54,578.30 1231.00,578.30" fill="none" stroke="#749f83" stroke-width="1.15" stroke-linejoin="round"/><polyline points="684.10,522.78 720.56,519.51 757.02,522.78 793.48,529.31 829.94,526.04 866.40,526.04 902.86,519.51 939.32,519.51 975.78,519.51 1012.24,519.51 1048.70,519.51 1085.16,522.78 1121.62,519.51 1158.08,526.04 1194.54,529.31 1231.00,519.51" fill="none" stroke="#ca8622" stroke-width="1.15" stroke-linejoin="round"/><polyline points="684.10,575.03 720.56,575.03 757.02,575.03 793.48,575.03 829.94,575.03 866.40,575.03 902.86,575.03 939.32,575.03 975.78,575.03 1012.24,575.03 1048.70,575.03 1085.16,575.03 1121.62,575.03 1158.08,575.03 1194.54,575.03 1231.00,575.03" fill="none" stroke="#bda29a" stroke-width="1.15" stroke-linejoin="round"/><polyline points="684.10,539.11 720.56,535.84 757.02,539.11 793.48,542.37 829.94,539.11 866.40,539.11 902.86,539.11 939.32,539.11 975.78,535.84 1012.24,532.58 1048.70,539.11 1085.16,539.11 1121.62,535.84 1158.08,539.11 1194.54,542.37 1231.00,535.84" fill="none" stroke="#6e7074" stroke-width="1.15" stroke-linejoin="round"/></svg>
<span class="t" style="left:655.28px;top:573.35px;font-size:8.3px;line-height:10px;color:#959ca9;-webkit-text-stroke:0;">0</span>
<span class="t" style="left:650.67px;top:540.35px;font-size:8.3px;line-height:10px;color:#959ca9;-webkit-text-stroke:0;">10</span>
<span class="t" style="left:650.67px;top:508.35px;font-size:8.3px;line-height:10px;color:#959ca9;-webkit-text-stroke:0;">20</span>
<span class="t" style="left:650.67px;top:475.35px;font-size:8.3px;line-height:10px;color:#959ca9;-webkit-text-stroke:0;">30</span>
<span class="t" style="left:650.67px;top:442.35px;font-size:8.3px;line-height:10px;color:#959ca9;-webkit-text-stroke:0;">40</span>
<span class="t" style="left:650.67px;top:410.35px;font-size:8.3px;line-height:10px;color:#959ca9;-webkit-text-stroke:0;">50</span>
<span class="t" style="left:674.27px;top:583.85px;font-size:8.1px;line-height:10px;color:#959ca9;-webkit-text-stroke:0;">11:06</span>
<span class="t" style="left:673.74px;top:592.85px;font-size:8.1px;line-height:10px;color:#959ca9;-webkit-text-stroke:0;">10-27</span>
<span class="t" style="left:710.73px;top:583.85px;font-size:8.1px;line-height:10px;color:#959ca9;-webkit-text-stroke:0;">11:07</span>
<span class="t" style="left:710.20px;top:592.85px;font-size:8.1px;line-height:10px;color:#959ca9;-webkit-text-stroke:0;">10-27</span>
<span class="t" style="left:747.19px;top:583.85px;font-size:8.1px;line-height:10px;color:#959ca9;-webkit-text-stroke:0;">11:08</span>
<span class="t" style="left:746.66px;top:592.85px;font-size:8.1px;line-height:10px;color:#959ca9;-webkit-text-stroke:0;">10-27</span>
<span class="t" style="left:783.65px;top:583.85px;font-size:8.1px;line-height:10px;color:#959ca9;-webkit-text-stroke:0;">11:09</span>
<span class="t" style="left:783.12px;top:592.85px;font-size:8.1px;line-height:10px;color:#959ca9;-webkit-text-stroke:0;">10-27</span>
<span class="t" style="left:820.11px;top:583.85px;font-size:8.1px;line-height:10px;color:#959ca9;-webkit-text-stroke:0;">11:10</span>
<span class="t" style="left:819.58px;top:592.85px;font-size:8.1px;line-height:10px;color:#959ca9;-webkit-text-stroke:0;">10-27</span>
<span class="t" style="left:856.87px;top:583.85px;font-size:8.1px;line-height:10px;color:#959ca9;-webkit-text-stroke:0;">11:11</span>
<span class="t" style="left:856.04px;top:592.85px;font-size:8.1px;line-height:10px;color:#959ca9;-webkit-text-stroke:0;">10-27</span>
<span class="t" style="left:893.03px;top:583.85px;font-size:8.1px;line-height:10px;color:#959ca9;-webkit-text-stroke:0;">11:12</span>
<span class="t" style="left:892.50px;top:592.85px;font-size:8.1px;line-height:10px;color:#959ca9;-webkit-text-stroke:0;">10-27</span>
<span class="t" style="left:929.49px;top:583.85px;font-size:8.1px;line-height:10px;color:#959ca9;-webkit-text-stroke:0;">11:13</span>
<span class="t" style="left:928.96px;top:592.85px;font-size:8.1px;line-height:10px;color:#959ca9;-webkit-text-stroke:0;">10-27</span>
<span class="t" style="left:965.95px;top:583.85px;font-size:8.1px;line-height:10px;color:#959ca9;-webkit-text-stroke:0;">11:14</span>
<span class="t" style="left:965.42px;top:592.85px;font-size:8.1px;line-height:10px;color:#959ca9;-webkit-text-stroke:0;">10-27</span>
<span class="t" style="left:1002.41px;top:583.85px;font-size:8.1px;line-height:10px;color:#959ca9;-webkit-text-stroke:0;">11:15</span>
<span class="t" style="left:1001.88px;top:592.85px;font-size:8.1px;line-height:10px;color:#959ca9;-webkit-text-stroke:0;">10-27</span>
<span class="t" style="left:1038.87px;top:583.85px;font-size:8.1px;line-height:10px;color:#959ca9;-webkit-text-stroke:0;">11:16</span>
<span class="t" style="left:1038.34px;top:592.85px;font-size:8.1px;line-height:10px;color:#959ca9;-webkit-text-stroke:0;">10-27</span>
<span class="t" style="left:1075.33px;top:583.85px;font-size:8.1px;line-height:10px;color:#959ca9;-webkit-text-stroke:0;">11:17</span>
<span class="t" style="left:1074.80px;top:592.85px;font-size:8.1px;line-height:10px;color:#959ca9;-webkit-text-stroke:0;">10-27</span>
<span class="t" style="left:1111.79px;top:583.85px;font-size:8.1px;line-height:10px;color:#959ca9;-webkit-text-stroke:0;">11:18</span>
<span class="t" style="left:1111.26px;top:592.85px;font-size:8.1px;line-height:10px;color:#959ca9;-webkit-text-stroke:0;">10-27</span>
<span class="t" style="left:1148.25px;top:583.85px;font-size:8.1px;line-height:10px;color:#959ca9;-webkit-text-stroke:0;">11:19</span>
<span class="t" style="left:1147.72px;top:592.85px;font-size:8.1px;line-height:10px;color:#959ca9;-webkit-text-stroke:0;">10-27</span>
<span class="t" style="left:1184.71px;top:583.85px;font-size:8.1px;line-height:10px;color:#959ca9;-webkit-text-stroke:0;">11:20</span>
<span class="t" style="left:1184.18px;top:592.85px;font-size:8.1px;line-height:10px;color:#959ca9;-webkit-text-stroke:0;">10-27</span>
<span class="t" style="left:1221.17px;top:583.85px;font-size:8.1px;line-height:10px;color:#959ca9;-webkit-text-stroke:0;">11:21</span>
<span class="t" style="left:1220.64px;top:592.85px;font-size:8.1px;line-height:10px;color:#959ca9;-webkit-text-stroke:0;">10-27</span>
<div style="position:absolute;left:15.2px;top:610.3px;width:411.4px;height:20.3px;background:#f2f3f8;border-radius:2px 2px 0 0;"></div>
<span class="t" style="left:22.70px;top:615.85px;font-size:10.26px;line-height:12px;color:#9aa3b5;letter-spacing:-0.150px;-webkit-text-stroke:0.08px currentColor;">Page FPT Latency ( ms )</span>
<svg style="left:409.40px;top:616.90px" width="9" height="9" viewBox="0 0 9 9"><rect x="0.95" y="3.5" width="6.3" height="4.1" rx="1.6" fill="none" stroke="#9aa0ae" stroke-width="1.5"/><path d="M2.5 3.4 V2.3 a1.6 1.6 0 0 1 3.2 0 V3.4" fill="none" stroke="#9aa0ae" stroke-width="1.3"/></svg>
<div style="position:absolute;left:434px;top:610.3px;width:411.6px;height:20.3px;background:#f2f3f8;border-radius:2px 2px 0 0;"></div>
<span class="t" style="left:441.50px;top:615.85px;font-size:10.36px;line-height:12px;color:#9aa3b5;letter-spacing:-0.149px;-webkit-text-stroke:0.08px currentColor;">Page TTL Latency ( ms )</span>
<svg style="left:828.40px;top:616.90px" width="9" height="9" viewBox="0 0 9 9"><rect x="0.95" y="3.5" width="6.3" height="4.1" rx="1.6" fill="none" stroke="#9aa0ae" stroke-width="1.5"/><path d="M2.5 3.4 V2.3 a1.6 1.6 0 0 1 3.2 0 V3.4" fill="none" stroke="#9aa0ae" stroke-width="1.3"/></svg>
<div style="position:absolute;left:853.2px;top:610.3px;width:411.8px;height:20.3px;background:#f2f3f8;border-radius:2px 2px 0 0;"></div>
<span class="t" style="left:860.70px;top:615.85px;font-size:10.22px;line-height:12px;color:#9aa3b5;letter-spacing:-0.156px;-webkit-text-stroke:0.08px currentColor;">Page DOM Ready Latency ( ms )</span>
<svg style="left:1247.80px;top:616.90px" width="9" height="9" viewBox="0 0 9 9"><rect x="0.95" y="3.5" width="6.3" height="4.1" rx="1.6" fill="none" stroke="#9aa0ae" stroke-width="1.5"/><path d="M2.5 3.4 V2.3 a1.6 1.6 0 0 1 3.2 0 V3.4" fill="none" stroke="#9aa0ae" stroke-width="1.3"/></svg>
<div style="position:absolute;left:26.9px;top:640.6500000000001px;width:9.1px;height:9.1px;background:#30A4EB;border-radius:50%;"></div>
<span class="t" style="left:39.75px;top:640.35px;font-size:8.57px;line-height:10px;color:#333;letter-spacing:0.000px;-webkit-text-stroke:0.08px currentColor;">P50</span>
<div style="position:absolute;left:63.03px;top:640.6500000000001px;width:9.1px;height:9.1px;background:#45BFC0;border-radius:50%;"></div>
<span class="t" style="left:75.88px;top:640.35px;font-size:8.57px;line-height:10px;color:#333;letter-spacing:0.000px;-webkit-text-stroke:0.08px currentColor;">P75</span>
<div style="position:absolute;left:99.16px;top:640.6500000000001px;width:9.1px;height:9.1px;background:#FFCC55;border-radius:50%;"></div>
<span class="t" style="left:112.01px;top:640.35px;font-size:8.57px;line-height:10px;color:#333;letter-spacing:0.000px;-webkit-text-stroke:0.08px currentColor;">P90</span>
<div style="position:absolute;left:135.29000000000002px;top:640.6500000000001px;width:9.1px;height:9.1px;background:#FF6A84;border-radius:50%;"></div>
<span class="t" style="left:148.14px;top:640.35px;font-size:8.57px;line-height:10px;color:#333;letter-spacing:0.000px;-webkit-text-stroke:0.08px currentColor;">P95</span>
<div style="position:absolute;left:171.42000000000002px;top:640.6500000000001px;width:9.1px;height:9.1px;background:#a0a7e6;border-radius:50%;"></div>
<span class="t" style="left:184.27px;top:640.35px;font-size:8.57px;line-height:10px;color:#333;letter-spacing:0.000px;-webkit-text-stroke:0.08px currentColor;">P99</span>
<div style="position:absolute;left:445.7px;top:640.6500000000001px;width:9.1px;height:9.1px;background:#30A4EB;border-radius:50%;"></div>
<span class="t" style="left:458.55px;top:640.35px;font-size:8.57px;line-height:10px;color:#333;letter-spacing:0.000px;-webkit-text-stroke:0.08px currentColor;">P50</span>
<div style="position:absolute;left:481.83px;top:640.6500000000001px;width:9.1px;height:9.1px;background:#45BFC0;border-radius:50%;"></div>
<span class="t" style="left:494.68px;top:640.35px;font-size:8.57px;line-height:10px;color:#333;letter-spacing:0.000px;-webkit-text-stroke:0.08px currentColor;">P75</span>
<div style="position:absolute;left:517.96px;top:640.6500000000001px;width:9.1px;height:9.1px;background:#FFCC55;border-radius:50%;"></div>
<span class="t" style="left:530.81px;top:640.35px;font-size:8.57px;line-height:10px;color:#333;letter-spacing:0.000px;-webkit-text-stroke:0.08px currentColor;">P90</span>
<div style="position:absolute;left:554.09px;top:640.6500000000001px;width:9.1px;height:9.1px;background:#FF6A84;border-radius:50%;"></div>
<span class="t" style="left:566.94px;top:640.35px;font-size:8.57px;line-height:10px;color:#333;letter-spacing:0.000px;-webkit-text-stroke:0.08px currentColor;">P95</span>
<div style="position:absolute;left:590.22px;top:640.6500000000001px;width:9.1px;height:9.1px;background:#a0a7e6;border-radius:50%;"></div>
<span class="t" style="left:603.07px;top:640.35px;font-size:8.57px;line-height:10px;color:#333;letter-spacing:0.000px;-webkit-text-stroke:0.08px currentColor;">P99</span>
<div style="position:absolute;left:864.9000000000001px;top:640.6500000000001px;width:9.1px;height:9.1px;background:#30A4EB;border-radius:50%;"></div>
<span class="t" style="left:877.75px;top:640.35px;font-size:8.57px;line-height:10px;color:#333;letter-spacing:0.000px;-webkit-text-stroke:0.08px currentColor;">P50</span>
<div style="position:absolute;left:901.0300000000001px;top:640.6500000000001px;width:9.1px;height:9.1px;background:#45BFC0;border-radius:50%;"></div>
<span class="t" style="left:913.88px;top:640.35px;font-size:8.57px;line-height:10px;color:#333;letter-spacing:0.000px;-webkit-text-stroke:0.08px currentColor;">P75</span>
<div style="position:absolute;left:937.1600000000001px;top:640.6500000000001px;width:9.1px;height:9.1px;background:#FFCC55;border-radius:50%;"></div>
<span class="t" style="left:950.01px;top:640.35px;font-size:8.57px;line-height:10px;color:#333;letter-spacing:0.000px;-webkit-text-stroke:0.08px currentColor;">P90</span>
<div style="position:absolute;left:973.2900000000001px;top:640.6500000000001px;width:9.1px;height:9.1px;background:#FF6A84;border-radius:50%;"></div>
<span class="t" style="left:986.14px;top:640.35px;font-size:8.57px;line-height:10px;color:#333;letter-spacing:0.000px;-webkit-text-stroke:0.08px currentColor;">P95</span>
<div style="position:absolute;left:1009.4200000000001px;top:640.6500000000001px;width:9.1px;height:9.1px;background:#a0a7e6;border-radius:50%;"></div>
<span class="t" style="left:1022.27px;top:640.35px;font-size:8.57px;line-height:10px;color:#333;letter-spacing:0.000px;-webkit-text-stroke:0.08px currentColor;">P99</span>
<svg style="left:0;top:0" width="1280" height="800" viewBox="0 0 1280 800"><line x1="39.00" y1="765.60" x2="408.50" y2="765.60" stroke="#f0f1f4" stroke-width="0.9" stroke-dasharray="3.5 2.6"/><line x1="39.00" y1="747.88" x2="408.50" y2="747.88" stroke="#f0f1f4" stroke-width="0.9" stroke-dasharray="3.5 2.6"/><line x1="39.00" y1="730.16" x2="408.50" y2="730.16" stroke="#f0f1f4" stroke-width="0.9" stroke-dasharray="3.5 2.6"/><line x1="39.00" y1="712.44" x2="408.50" y2="712.44" stroke="#f0f1f4" stroke-width="0.9" stroke-dasharray="3.5 2.6"/><line x1="39.00" y1="694.72" x2="408.50" y2="694.72" stroke="#f0f1f4" stroke-width="0.9" stroke-dasharray="3.5 2.6"/><line x1="39.00" y1="677.00" x2="408.50" y2="677.00" stroke="#f0f1f4" stroke-width="0.9" stroke-dasharray="3.5 2.6"/><line x1="52.20" y1="766.10" x2="52.20" y2="768.60" stroke="#dfe1e6" stroke-width="0.8"/><polyline points="52.20,765.60 75.40,765.60 98.60,765.60 121.80,765.60 145.00,765.60 168.20,765.60 191.40,765.60 214.60,765.60 237.80,765.60 261.00,765.60 284.20,765.60 307.40,765.60 330.60,765.60 353.80,765.60 377.00,765.60 400.20,765.60" fill="none" stroke="#b89dd5" stroke-width="1.3" stroke-linejoin="round"/></svg>
<span class="t" style="left:29.48px;top:760.35px;font-size:8.3px;line-height:10px;color:#959ca9;-webkit-text-stroke:0;">0</span>
<span class="t" style="left:22.56px;top:743.35px;font-size:8.3px;line-height:10px;color:#959ca9;-webkit-text-stroke:0;">0.2</span>
<span class="t" style="left:22.56px;top:725.35px;font-size:8.3px;line-height:10px;color:#959ca9;-webkit-text-stroke:0;">0.4</span>
<span class="t" style="left:22.56px;top:707.35px;font-size:8.3px;line-height:10px;color:#959ca9;-webkit-text-stroke:0;">0.6</span>
<span class="t" style="left:22.56px;top:689.35px;font-size:8.3px;line-height:10px;color:#959ca9;-webkit-text-stroke:0;">0.8</span>
<span class="t" style="left:29.48px;top:672.35px;font-size:8.3px;line-height:10px;color:#959ca9;-webkit-text-stroke:0;">1</span>
<span class="t" style="left:42.37px;top:770.85px;font-size:8.1px;line-height:10px;color:#959ca9;-webkit-text-stroke:0;">11:06</span>
<span class="t" style="left:88.77px;top:770.85px;font-size:8.1px;line-height:10px;color:#959ca9;-webkit-text-stroke:0;">11:08</span>
<span class="t" style="left:135.17px;top:770.85px;font-size:8.1px;line-height:10px;color:#959ca9;-webkit-text-stroke:0;">11:10</span>
<span class="t" style="left:181.57px;top:770.85px;font-size:8.1px;line-height:10px;color:#959ca9;-webkit-text-stroke:0;">11:12</span>
<span class="t" style="left:227.97px;top:770.85px;font-size:8.1px;line-height:10px;color:#959ca9;-webkit-text-stroke:0;">11:14</span>
<span class="t" style="left:274.37px;top:770.85px;font-size:8.1px;line-height:10px;color:#959ca9;-webkit-text-stroke:0;">11:16</span>
<span class="t" style="left:320.77px;top:770.85px;font-size:8.1px;line-height:10px;color:#959ca9;-webkit-text-stroke:0;">11:18</span>
<span class="t" style="left:367.17px;top:770.85px;font-size:8.1px;line-height:10px;color:#959ca9;-webkit-text-stroke:0;">11:20</span>
<svg style="left:0;top:0" width="1280" height="800" viewBox="0 0 1280 800"><line x1="457.00" y1="765.60" x2="831.00" y2="765.60" stroke="#f0f1f4" stroke-width="0.9" stroke-dasharray="3.5 2.6"/><line x1="457.00" y1="743.45" x2="831.00" y2="743.45" stroke="#f0f1f4" stroke-width="0.9" stroke-dasharray="3.5 2.6"/><line x1="457.00" y1="721.30" x2="831.00" y2="721.30" stroke="#f0f1f4" stroke-width="0.9" stroke-dasharray="3.5 2.6"/><line x1="457.00" y1="699.15" x2="831.00" y2="699.15" stroke="#f0f1f4" stroke-width="0.9" stroke-dasharray="3.5 2.6"/><line x1="457.00" y1="677.00" x2="831.00" y2="677.00" stroke="#f0f1f4" stroke-width="0.9" stroke-dasharray="3.5 2.6"/><line x1="469.20" y1="766.10" x2="469.20" y2="768.60" stroke="#dfe1e6" stroke-width="0.8"/><polyline points="469.20,721.30 492.53,721.30 515.86,721.30 539.19,721.30 562.52,721.30 585.85,721.30 609.18,721.30 632.51,677.00 655.84,721.30 679.17,721.30 702.50,721.30 725.83,721.30 749.16,721.30 772.49,721.30 795.82,721.30 819.15,721.30" fill="none" stroke="#30A4EB" stroke-width="1.2" stroke-linejoin="round"/><polyline points="469.20,677.00 492.53,721.30 515.86,721.30 539.19,721.30 562.52,721.30 585.85,721.30 609.18,677.00 632.51,677.00 655.84,677.00 679.17,677.00 702.50,677.00 725.83,721.30 749.16,721.30 772.49,721.30 795.82,721.30 819.15,677.00" fill="none" stroke="#45BFC0" stroke-width="1.2" stroke-linejoin="round"/><polyline points="469.20,677.00 492.53,677.00 515.86,677.00 539.19,721.30 562.52,677.00 585.85,677.00 609.18,677.00 632.51,677.00 655.84,677.00 679.17,677.00 702.50,677.00 725.83,677.00 749.16,721.30 772.49,677.00 795.82,721.30 819.15,677.00" fill="none" stroke="#FFCC55" stroke-width="1.2" stroke-linejoin="round"/><polyline points="469.20,677.00 492.53,677.00 515.86,677.00 539.19,677.00 562.52,677.00 585.85,677.00 609.18,677.00 632.51,677.00 655.84,677.00 679.17,677.00 702.50,677.00 725.83,677.00 749.16,677.00 772.49,677.00 795.82,677.00 819.15,677.00" fill="none" stroke="#FF6A84" stroke-width="1.2" stroke-linejoin="round"/><polyline points="469.20,677.00 492.53,677.00 515.86,677.00 539.19,677.00 562.52,677.00 585.85,677.00 609.18,677.00 632.51,677.00 655.84,677.00 679.17,677.00 702.50,677.00 725.83,677.00 749.16,677.00 772.49,677.00 795.82,677.00 819.15,677.00" fill="none" stroke="#b89dd5" stroke-width="1.3" stroke-linejoin="round"/></svg>
<span class="t" style="left:446.38px;top:760.35px;font-size:8.3px;line-height:10px;color:#959ca9;-webkit-text-stroke:0;">0</span>
<span class="t" style="left:446.38px;top:738.35px;font-size:8.3px;line-height:10px;color:#959ca9;-webkit-text-stroke:0;">5</span>
<span class="t" style="left:441.77px;top:716.35px;font-size:8.3px;line-height:10px;color:#959ca9;-webkit-text-stroke:0;">10</span>
<span class="t" style="left:441.77px;top:694.35px;font-size:8.3px;line-height:10px;color:#959ca9;-webkit-text-stroke:0;">15</span>
<span class="t" style="left:441.77px;top:672.35px;font-size:8.3px;line-height:10px;color:#959ca9;-webkit-text-stroke:0;">20</span>
<span class="t" style="left:459.37px;top:770.85px;font-size:8.1px;line-height:10px;color:#959ca9;-webkit-text-stroke:0;">11:06</span>
<span class="t" style="left:506.03px;top:770.85px;font-size:8.1px;line-height:10px;color:#959ca9;-webkit-text-stroke:0;">11:08</span>
<span class="t" style="left:552.69px;top:770.85px;font-size:8.1px;line-height:10px;color:#959ca9;-webkit-text-stroke:0;">11:10</span>
<span class="t" style="left:599.35px;top:770.85px;font-size:8.1px;line-height:10px;color:#959ca9;-webkit-text-stroke:0;">11:12</span>
<span class="t" style="left:646.01px;top:770.85px;font-size:8.1px;line-height:10px;color:#959ca9;-webkit-text-stroke:0;">11:14</span>
<span class="t" style="left:692.67px;top:770.85px;font-size:8.1px;line-height:10px;color:#959ca9;-webkit-text-stroke:0;">11:16</span>
<span class="t" style="left:739.33px;top:770.85px;font-size:8.1px;line-height:10px;color:#959ca9;-webkit-text-stroke:0;">11:18</span>
<span class="t" style="left:785.99px;top:770.85px;font-size:8.1px;line-height:10px;color:#959ca9;-webkit-text-stroke:0;">11:20</span>
<svg style="left:0;top:0" width="1280" height="800" viewBox="0 0 1280 800"><line x1="876.00" y1="765.60" x2="1253.00" y2="765.60" stroke="#f0f1f4" stroke-width="0.9" stroke-dasharray="3.5 2.6"/><line x1="876.00" y1="743.45" x2="1253.00" y2="743.45" stroke="#f0f1f4" stroke-width="0.9" stroke-dasharray="3.5 2.6"/><line x1="876.00" y1="721.30" x2="1253.00" y2="721.30" stroke="#f0f1f4" stroke-width="0.9" stroke-dasharray="3.5 2.6"/><line x1="876.00" y1="699.15" x2="1253.00" y2="699.15" stroke="#f0f1f4" stroke-width="0.9" stroke-dasharray="3.5 2.6"/><line x1="876.00" y1="677.00" x2="1253.00" y2="677.00" stroke="#f0f1f4" stroke-width="0.9" stroke-dasharray="3.5 2.6"/><line x1="888.05" y1="766.10" x2="888.05" y2="768.60" stroke="#dfe1e6" stroke-width="0.8"/><polyline points="888.05,721.30 911.42,721.30 934.79,721.30 958.16,721.30 981.53,721.30 1004.90,721.30 1028.27,721.30 1051.64,677.00 1075.01,677.00 1098.38,721.30 1121.75,721.30 1145.12,721.30 1168.49,721.30 1191.86,721.30 1215.23,721.30 1238.60,721.30" fill="none" stroke="#30A4EB" stroke-width="1.2" stroke-linejoin="round"/><polyline points="888.05,677.00 911.42,721.30 934.79,721.30 958.16,721.30 981.53,721.30 1004.90,721.30 1028.27,677.00 1051.64,677.00 1075.01,677.00 1098.38,677.00 1121.75,677.00 1145.12,721.30 1168.49,721.30 1191.86,721.30 1215.23,721.30 1238.60,677.00" fill="none" stroke="#45BFC0" stroke-width="1.2" stroke-linejoin="round"/><polyline points="888.05,677.00 911.42,677.00 934.79,677.00 958.16,721.30 981.53,677.00 1004.90,677.00 1028.27,677.00 1051.64,677.00 1075.01,677.00 1098.38,677.00 1121.75,677.00 1145.12,677.00 1168.49,721.30 1191.86,677.00 1215.23,677.00 1238.60,677.00" fill="none" stroke="#FFCC55" stroke-width="1.2" stroke-linejoin="round"/><polyline points="888.05,677.00 911.42,677.00 934.79,677.00 958.16,677.00 981.53,677.00 1004.90,677.00 1028.27,677.00 1051.64,677.00 1075.01,677.00 1098.38,677.00 1121.75,677.00 1145.12,677.00 1168.49,677.00 1191.86,677.00 1215.23,677.00 1238.60,677.00" fill="none" stroke="#FF6A84" stroke-width="1.2" stroke-linejoin="round"/><polyline points="888.05,677.00 911.42,677.00 934.79,677.00 958.16,677.00 981.53,677.00 1004.90,677.00 1028.27,677.00 1051.64,677.00 1075.01,677.00 1098.38,677.00 1121.75,677.00 1145.12,677.00 1168.49,677.00 1191.86,677.00 1215.23,677.00 1238.60,677.00" fill="none" stroke="#b89dd5" stroke-width="1.3" stroke-linejoin="round"/></svg>
<span class="t" style="left:865.58px;top:760.35px;font-size:8.3px;line-height:10px;color:#959ca9;-webkit-text-stroke:0;">0</span>
<span class="t" style="left:865.58px;top:738.35px;font-size:8.3px;line-height:10px;color:#959ca9;-webkit-text-stroke:0;">5</span>
<span class="t" style="left:860.97px;top:716.35px;font-size:8.3px;line-height:10px;color:#959ca9;-webkit-text-stroke:0;">10</span>
<span class="t" style="left:860.97px;top:694.35px;font-size:8.3px;line-height:10px;color:#959ca9;-webkit-text-stroke:0;">15</span>
<span class="t" style="left:860.97px;top:672.35px;font-size:8.3px;line-height:10px;color:#959ca9;-webkit-text-stroke:0;">20</span>
<span class="t" style="left:878.22px;top:770.85px;font-size:8.1px;line-height:10px;color:#959ca9;-webkit-text-stroke:0;">11:06</span>
<span class="t" style="left:924.96px;top:770.85px;font-size:8.1px;line-height:10px;color:#959ca9;-webkit-text-stroke:0;">11:08</span>
<span class="t" style="left:971.70px;top:770.85px;font-size:8.1px;line-height:10px;color:#959ca9;-webkit-text-stroke:0;">11:10</span>
<span class="t" style="left:1018.44px;top:770.85px;font-size:8.1px;line-height:10px;color:#959ca9;-webkit-text-stroke:0;">11:12</span>
<span class="t" style="left:1065.18px;top:770.85px;font-size:8.1px;line-height:10px;color:#959ca9;-webkit-text-stroke:0;">11:14</span>
<span class="t" style="left:1111.92px;top:770.85px;font-size:8.1px;line-height:10px;color:#959ca9;-webkit-text-stroke:0;">11:16</span>
<span class="t" style="left:1158.66px;top:770.85px;font-size:8.1px;line-height:10px;color:#959ca9;-webkit-text-stroke:0;">11:18</span>
<span class="t" style="left:1205.40px;top:770.85px;font-size:8.1px;line-height:10px;color:#959ca9;-webkit-text-stroke:0;">11:20</span>
</main>
<footer class="rk-footer">
<span class="t" style="left:934.10px;top:784.35px;font-size:8.7px;line-height:10px;color:#252a2f;letter-spacing:-0.331px;font-family:'Liberation Mono',monospace;">2020-10-27 11:06:52 ~ 2020-10-27 11:21:52</span>
<span class="t" style="left:1148.00px;top:782.85px;font-size:9.6px;line-height:12px;color:#3d444f;letter-spacing:-0.371px;">En</span>
<span class="t" style="left:1170.20px;top:782.85px;font-size:9.6px;line-height:12px;color:#3d444f;letter-spacing:-0.335px;">Server Zone UTC +</span>
<span class="t" style="left:1249.80px;top:783.85px;font-size:9px;line-height:11px;color:#222;letter-spacing:-0.255px;">13</span>
<svg style="left:1259.6px;top:782.5px" width="9" height="13" viewBox="0 0 9 13"><rect x="0.5" y="0.5" width="7.6" height="12" rx="3" fill="#fff" stroke="#c4c4c4" stroke-width="0.8"/><path d="M2.6 5 L4.3 3 L6 5 M2.6 8 L4.3 10 L6 8" fill="none" stroke="#444" stroke-width="1"/></svg>
</footer>
<div class="annotations">
<div style="position:absolute;left:16px;top:160.6px;width:411.3px;height:170.8px;border:3.4px solid #fb2a22;border-radius:6px;box-sizing:border-box;"></div>
<div style="position:absolute;left:645px;top:348px;width:621.6px;height:256.8px;border:3.4px solid #fb2a22;border-radius:6px;box-sizing:border-box;"></div>
<div style="position:absolute;left:12.7px;top:298.6px;width:8.2px;height:8.2px;background:#fb2a22;border-radius:50%;"></div>
<svg style="left:25.1px;top:296.8px" width="7" height="12" viewBox="0 0 7 12"><path d="M7 0.3 L0.2 6 L7 11.3 Z" fill="#4a4a4a"/></svg>
<div style="position:absolute;left:32.1px;top:291.6px;width:165px;height:31px;background:rgba(0,0,0,0.72);border-radius:3px;"></div>
<span class="t" style="left:43.00px;top:296.85px;font-size:17.2px;line-height:21px;color:#fff;letter-spacing:0.223px;-webkit-text-stroke:0;">Top N Page Views</span>
<div style="position:absolute;left:770.9px;top:345.3px;width:8.2px;height:8.2px;background:#fb2a22;border-radius:50%;"></div>
<svg style="left:783px;top:343.6px" width="7" height="12" viewBox="0 0 7 12"><path d="M7 0.6 L0.2 5.8 L7 11.4 Z" fill="rgba(0,0,0,0.72)"/></svg>
<div style="position:absolute;left:790px;top:338.7px;width:236.3px;height:30.6px;background:rgba(0,0,0,0.72);border-radius:3px;"></div>
<span class="t" style="left:800.90px;top:343.85px;font-size:17.2px;line-height:21px;color:#fff;letter-spacing:0.327px;-webkit-text-stroke:0;">Frontend Rendering Speed</span>
</div>
</body></html>
